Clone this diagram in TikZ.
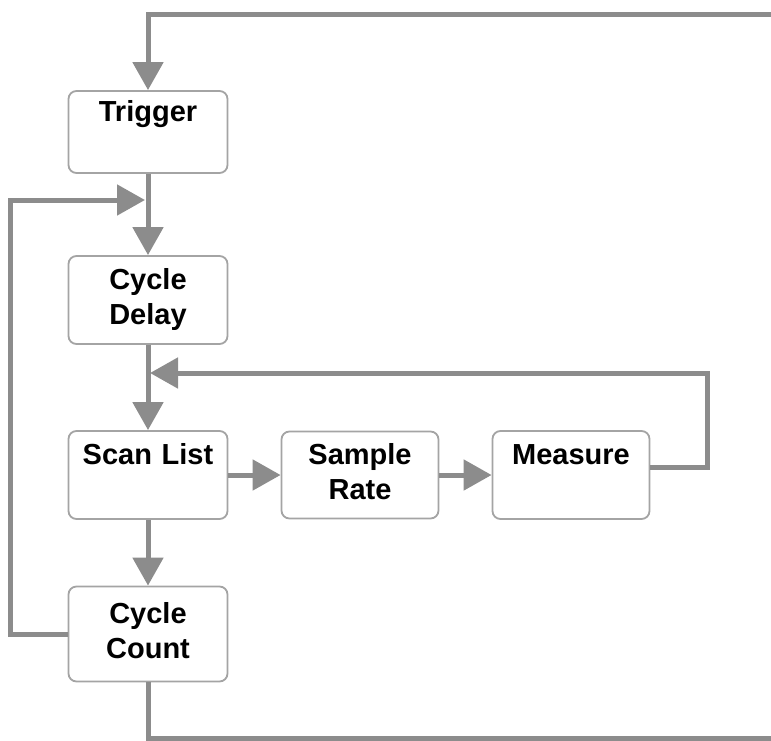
\documentclass[tikz,border=0pt]{standalone}
\usepackage{fontspec}
\setmainfont{Liberation Sans}
\usetikzlibrary{arrows.meta}
\definecolor{linegray}{HTML}{8C8C8C}
\definecolor{boxgray}{HTML}{A4A4A4}

\begin{document}
\begin{tikzpicture}[x=1pt, y=-1pt,
  box/.style={rectangle, rounded corners=8pt, draw=boxgray, line width=1.8pt, fill=white,
    minimum width=159pt, text width=150pt, inner sep=2pt, align=center,
    font=\fontsize{29}{35}\selectfont\bfseries},
  flow/.style={draw=linegray, line width=5pt, -{Triangle[length=28pt,width=30pt]}},
  wire/.style={draw=linegray, line width=5pt}]
\useasboundingbox (0,0) rectangle (771,740);

% the blocks
\node[box, minimum height=82pt] (trigger) at (148,132) {\strut Trigger\\\strut};
\node[box, minimum height=88pt] (delay) at (148,300) {\strut Cycle\\\strut Delay};
\node[box, minimum height=88pt] (scan) at (148,475) {\strut Scan List\\\strut};
\node[box, minimum height=87pt, minimum width=157pt] (rate) at (360,475) {\strut Sample\\\strut Rate};
\node[box, minimum height=88pt, minimum width=157pt] (measure) at (571,475) {\strut Measure\\\strut};
\node[box, minimum height=95pt] (count) at (148,634) {\strut Cycle\\\strut Count};

% loose ends and joins
\coordinate (topR) at (771,14);
\coordinate (botR) at (771,738);
\coordinate (j1) at (145,200);
\coordinate (j2) at (150,373);

% connectors
\draw[flow] (topR) -| (trigger.north);
\draw[flow] (trigger.south) -- (delay.north);
\draw[flow] (delay.south) -- (scan.north);
\draw[flow] (scan.east) -- (rate.west);
\draw[flow] (rate.east) -- (measure.west);
\draw[flow] (scan.south) -- (count.north);
\draw[flow] ([yshift=8pt]measure.east) -- ++(57,0) |- (j2);
\draw[flow] (count.west) -- ++(-57,0) |- (j1);
\draw[wire] (count.south) |- (botR);
\end{tikzpicture}
\end{document}
